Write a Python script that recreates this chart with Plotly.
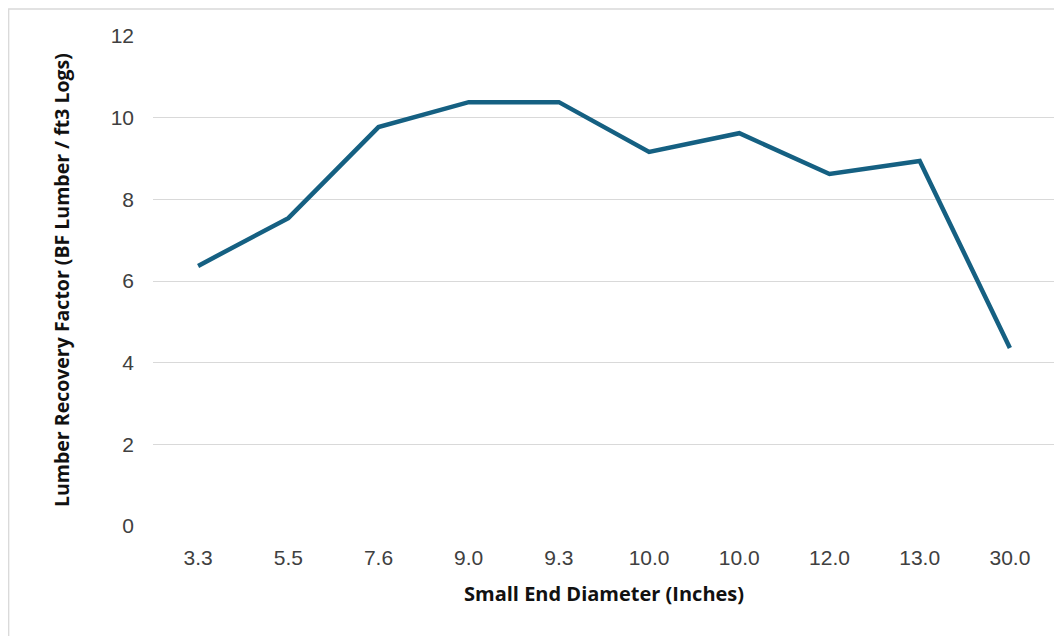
import plotly.graph_objects as go

categories = ["3.3", "5.5", "7.6", "9.0", "9.3", "10.0", "10.0", "12.0", "13.0", "30.0"]
lrf_values = [6.37, 7.54, 9.77, 10.38, 10.38, 9.16, 9.62, 8.62, 8.94, 4.36]
y_ticks = [0, 2, 4, 6, 8, 10, 12]

positions = list(range(len(categories)))

fig = go.Figure()
fig.add_trace(go.Scatter(
    x=positions, y=lrf_values, mode="lines",
    line=dict(color="#156082", width=4.5),
    hoverinfo="skip", showlegend=False,
))

# page has an 8px body margin; figure is placed at (8, 8)
W, H = 1054, 628
L, R, T, B = 145, 7, 28, 110
pw = W - L - R
ph = H - T - B

fig.update_layout(
    width=W, height=H,
    margin=dict(l=L, r=R, t=T, b=B),
    paper_bgcolor="white", plot_bgcolor="white",
    font=dict(family="Liberation Sans, Arial", color="#404040", size=21),
    xaxis=dict(
        range=[-0.5, len(categories) - 0.5],
        tickvals=positions, ticktext=categories,
        showgrid=False, zeroline=False, showline=False, ticks="",
        tickfont=dict(size=21, color="#404040"),
        ticklabelstandoff=17,
    ),
    yaxis=dict(
        range=[0, 12], tickvals=y_ticks,
        showgrid=True, gridcolor="#d9d9d9", gridwidth=1.3,
        zeroline=False, showline=False, ticks="",
        tickfont=dict(size=21, color="#404040"),
        ticklabelstandoff=18,
    ),
    annotations=[
        dict(text="<b>Small End Diameter (Inches)</b>", xref="paper", yref="paper",
             x=0.5, y=-(585 - (T + ph)) / ph, xanchor="center", yanchor="middle",
             showarrow=False, font=dict(family="Open Sans", size=20, color="#111111")),
        dict(text="<b>Lumber Recovery Factor (BF Lumber / ft3 Logs)</b>", xref="paper", yref="paper",
             x=(53 - L) / pw, y=1 - (272 - T) / ph, xanchor="center", yanchor="middle",
             textangle=-90, showarrow=False,
             font=dict(family="Open Sans", size=19.5, color="#111111")),
    ],
)

# light chart-area border
fig.add_shape(type="rect", xref="paper", yref="paper",
              x0=(0.7 - L) / pw, x1=1 + (R + 20) / pw, y0=-(B + 20) / ph, y1=1 + (T - 1) / ph,
              line=dict(color="#d9d9d9", width=1.3), fillcolor="rgba(0,0,0,0)",
              layer="below")

fig.write_html("out.html")
